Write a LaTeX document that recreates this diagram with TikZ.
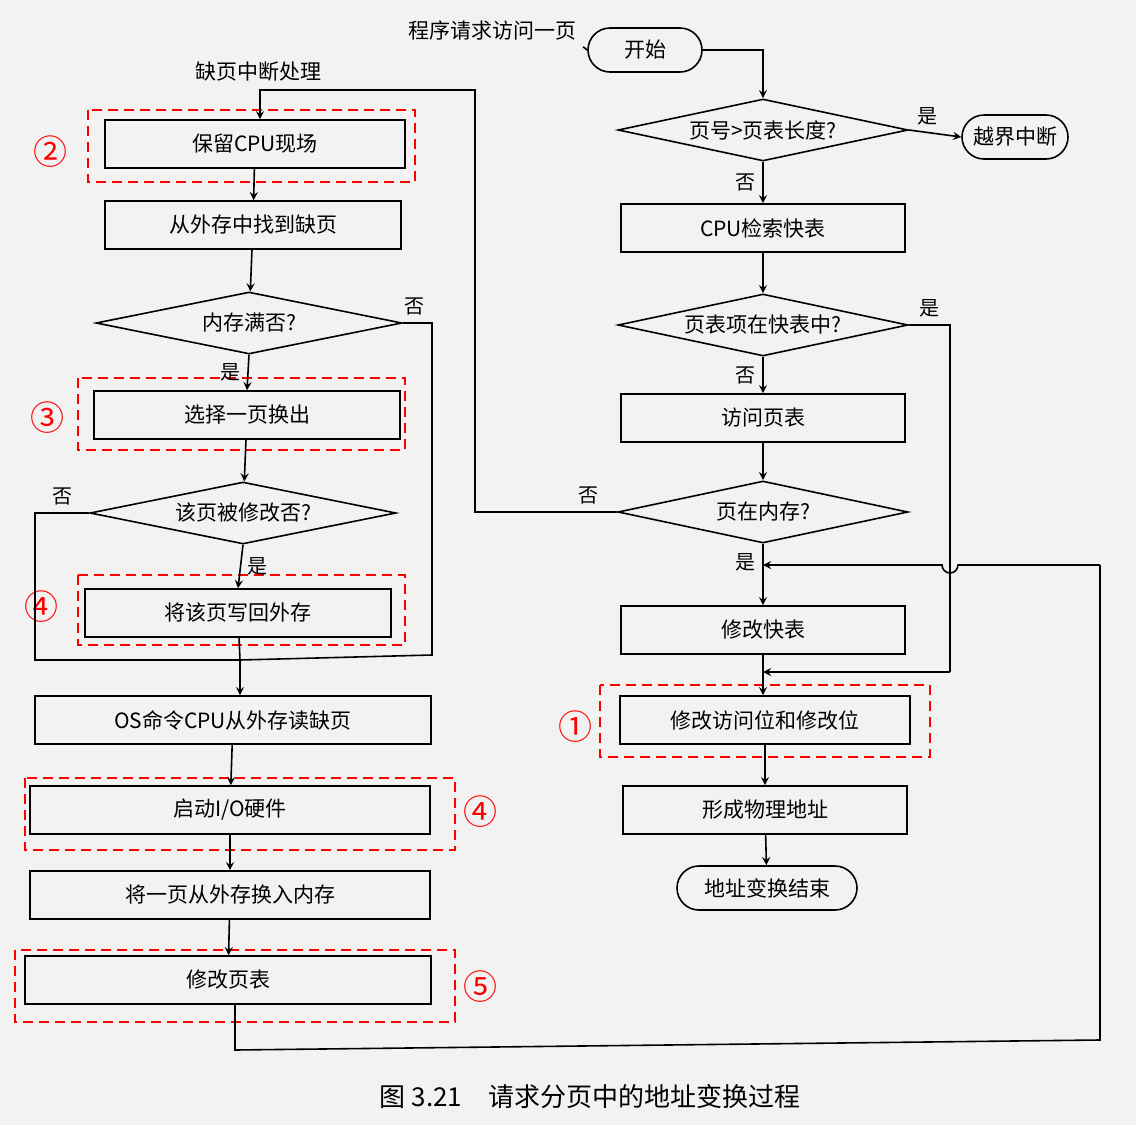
\documentclass[tikz,border=0pt]{standalone}
\usepackage{fontspec}
\setmainfont{Noto Sans CJK SC}
\usepackage{tikz}
\usetikzlibrary{shapes.geometric, positioning, arrows, calc}
\tikzstyle{procbox}=[draw, thick, minimum height=24pt, inner sep=1pt]
\tikzstyle{decision}=[draw, thick, diamond, aspect=4.5, inner sep=0pt, minimum height=31pt]
\tikzstyle{terminal}=[draw, thick, rounded corners=11pt, minimum height=22pt]
\tikzstyle{arrow}=[->, >=stealth, thick]
\tikzstyle{line}=[thick]
\tikzstyle{redmark}=[draw=red, very thick, dash pattern=on 5pt off 3pt]
\tikzstyle{circnum}=[text=red, font=\fontsize{17}{17}\selectfont]
\tikzstyle{yesno}=[font=\fontsize{10}{10}\selectfont]

\begin{document}
\begin{tikzpicture}[x=0.5pt, y=-0.5pt, font=\fontsize{10.5}{12}\selectfont]
      \fill[gray!10] (0,0) rectangle (1136,1125);
      \useasboundingbox (0,0) rectangle (1136,1125);

      % right column
      \node (request) at (492,30) {程序请求访问一页};
      \node[terminal, minimum width=57pt] (start) at (645,50) {开始};
      \node[decision, minimum width=145pt] (pageLen) at (763,130) {页号>页表长度?};
      \node[terminal, minimum width=53pt] (overflow) at (1015,137) {越界中断};
      \node[procbox, minimum width=142pt] (cpuTlb) at (763,228) {CPU检索快表};
      \node[decision, minimum width=145pt] (inTlb) at (763,325) {页表项在快表中?};
      \node[procbox, minimum width=142pt] (pageTable) at (763,418) {访问页表};
      \node[decision, minimum width=145pt] (inMem) at (763,512) {页在内存?};
      \node[procbox, minimum width=142pt] (fixTlb) at (763,630) {修改快表};
      \node[procbox, minimum width=145pt] (fixBits) at (765,720) {修改访问位和修改位};
      \node[procbox, minimum width=142pt] (physAddr) at (765,810) {形成物理地址};
      \node[terminal, minimum width=90pt] (finish) at (767,888) {地址变换结束};

      % left column
      \node (fault) at (258,72) {缺页中断处理};
      \node[procbox, minimum width=150pt] (saveCpu) at (255,144) {保留CPU现场};
      \node[procbox, minimum width=148pt] (findPage) at (253,225) {从外存中找到缺页};
      \node[decision, minimum width=153pt] (memFull) at (249,323) {内存满否?};
      \node[procbox, minimum width=153pt] (choose) at (247,415) {选择一页换出};
      \node[decision, minimum width=153pt] (modified) at (243,513) {该页被修改否?};
      \node[procbox, minimum width=153pt] (writeBack) at (238,613) {将该页写回外存};
      \node[procbox, minimum width=198pt] (osCmd) at (233,720) {OS命令CPU从外存读缺页};
      \node[procbox, minimum width=200pt] (startIo) at (230,810) {启动I/O硬件};
      \node[procbox, minimum width=200pt] (swapIn) at (230,895) {将一页从外存换入内存};
      \node[procbox, minimum width=203pt] (fixTable) at (228,980) {修改页表};

      \coordinate (join) at (240,660);
      \coordinate (back) at (1100,565);

      % red marks
      \draw[redmark] (88,110) rectangle (415,182);
      \draw[redmark] (78,378) rectangle (405,450);
      \draw[redmark] (78,575) rectangle (405,645);
      \draw[redmark] (25,778) rectangle (455,850);
      \draw[redmark] (15,950) rectangle (455,1022);
      \draw[redmark] (600,685) rectangle (930,757);
      \node[circnum] at (50,152) {②};
      \node[circnum] at (48,418) {③};
      \node[circnum] at (42,607) {④};
      \node[circnum] at (480,812) {④};
      \node[circnum] at (480,987) {⑤};
      \node[circnum] at (575,727) {①};

      % right connectors
      \draw[line] (request.south east) -- (start.west);
      \draw[arrow] (start.east) -| (pageLen.north);
      \draw[arrow] (pageLen.east) -- (overflow.west) node[yesno, pos=0.35, above] {是};
      \draw[arrow] (pageLen.south) -- (cpuTlb.north) node[yesno, midway, left] {否};
      \draw[arrow] (cpuTlb) -- (inTlb);
      \draw[arrow] (inTlb.south) -- (pageTable.north) node[yesno, midway, left] {否};
      \draw[arrow] (pageTable) -- (inMem);
      \draw[arrow] (inMem.south) -- (fixTlb.north) node[yesno, pos=0.3, left] {是};
      \draw[arrow] (fixTlb.south) -- (fixTlb.south |- fixBits.north);
      \draw[arrow] (fixBits) -- (physAddr);
      \draw[arrow] (physAddr) -- (finish);
      \draw[line] (inTlb.east) -- (950,325) node[yesno, pos=0.5, above] {是} -- (950,672);
      \draw[arrow] (950,672) -- (fixTlb.south |- 0,672);
      \draw[arrow] (inMem.west) -- (475,512) node[yesno, pos=0.2, above] {否}
        -- (475,90) -- (260,90) -- (saveCpu.north -| 260,0);
      \draw[line] (fixTable.south -| 235,0) -- (235,1050) -- (1100,1040) -- (back);
      \draw[arrow] (back) -- (958,565) arc (0:180:8) -- (fixTlb.north |- 0,565);

      % left connectors
      \draw[arrow] (saveCpu) -- (findPage);
      \draw[arrow] (findPage) -- (memFull);
      \draw[arrow] (memFull.south) -- (choose.north) node[yesno, pos=0.5, left] {是};
      \draw[arrow] (choose) -- (modified);
      \draw[arrow] (modified.south) -- (writeBack.north) node[yesno, pos=0.5, right] {是};
      \draw[line] (memFull.east) -- (432,323) node[yesno, pos=0.4, above] {否} -- (432,655) -- (join);
      \draw[line] (modified.west) -- (35,513) node[yesno, pos=0.5, above] {否} -- (35,660) -- (join);
      \draw[line] (writeBack) -- (join);
      \draw[arrow] (join) -- (osCmd.north -| join);
      \draw[arrow] (osCmd) -- (startIo);
      \draw[arrow] (startIo) -- (swapIn);
      \draw[arrow] (swapIn) -- (fixTable);

      \node[font=\fontsize{13}{14}\selectfont] (caption) at (590,1097) {图 3.21\quad 请求分页中的地址变换过程};
    \end{tikzpicture}
\end{document}
